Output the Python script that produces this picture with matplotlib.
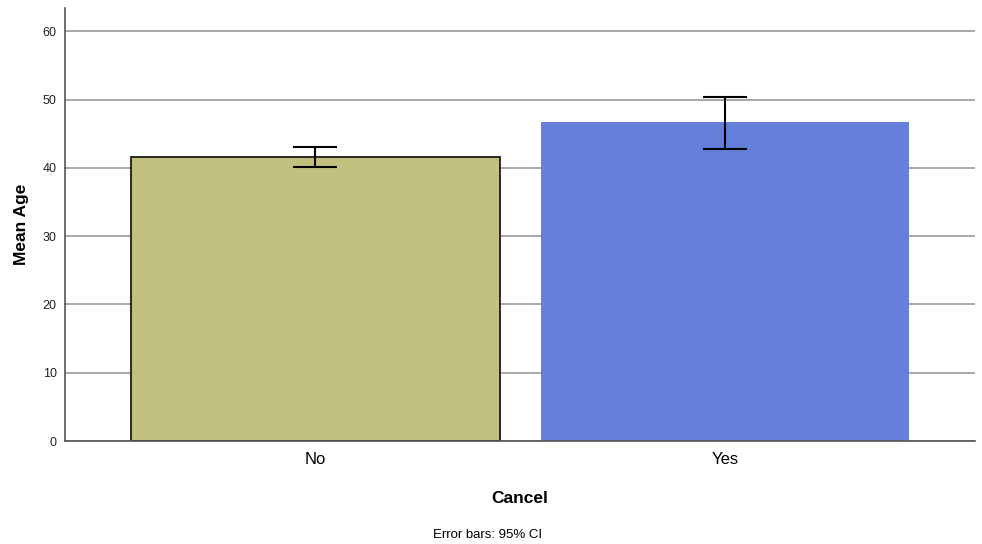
import matplotlib
matplotlib.use("Agg")
import matplotlib.pyplot as plt
import numpy as np

plt.rcParams['font.family'] = ['Liberation Sans', 'DejaVu Sans']

categories = ['No', 'Yes']
mean_age = [41.55, 46.65]
ci_low = [40.1, 42.75]
ci_high = [43.05, 50.35]

colors = ['#c1c07f', '#6480dc']
edges = ['#1a1a1a', 'none']

fig = plt.figure(figsize=(9.82, 5.44), dpi=100)
ax = fig.add_axes([0.0662, 0.1893, 0.9267, 0.796])

x = np.arange(len(categories))
for i in range(len(categories)):
    ax.bar(x[i], mean_age[i], width=0.9, color=colors[i], edgecolor=edges[i],
           linewidth=1.3 if edges[i] != 'none' else 0, zorder=2)

err = [np.array(mean_age) - np.array(ci_low), np.array(ci_high) - np.array(mean_age)]
ax.errorbar(x, mean_age, yerr=err, fmt='none', ecolor='black', elinewidth=1.5,
            capsize=16, capthick=1.5, zorder=3)

ax.set_xlim(-0.61, 1.61)
ax.set_ylim(0, 63.4)
ax.set_yticks(range(0, 70, 10))
ax.yaxis.grid(True, color='#9a9a9a', linewidth=1.2, zorder=0)
ax.set_axisbelow(True)

ax.set_xticks(x)
ax.set_xticklabels(categories, fontsize=12)
ax.tick_params(axis='x', length=0, pad=8)
ax.tick_params(axis='y', length=0, labelsize=9, pad=6, labelcolor='#222222')

for s in ['top', 'right']:
    ax.spines[s].set_visible(False)
ax.spines['left'].set_color('#555555')
ax.spines['bottom'].set_color('#555555')
ax.spines['left'].set_linewidth(1.2)
ax.spines['bottom'].set_linewidth(1.2)

ax.set_ylabel('Mean Age', fontsize=12.5, fontweight='bold', labelpad=10)
ax.set_xlabel('Cancel', fontsize=12.5, fontweight='bold', labelpad=17)

fig.text(0.496, 0.006, 'Error bars: 95% CI', ha='center', va='bottom', fontsize=9.5)

fig.savefig('out.png', dpi=100)
